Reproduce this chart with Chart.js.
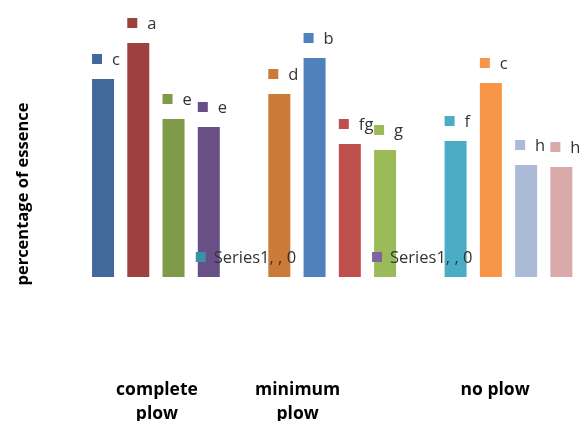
<!DOCTYPE html>
<html>
<head>
<meta charset="utf-8">
<script src="https://cdn.jsdelivr.net/npm/chart.js@4/dist/chart.umd.min.js"></script>
<style>
  html, body { margin: 0; padding: 0; background: #fff; }
  #wrap { width: 579px; height: 421px; }
</style>
</head>
<body>
<div id="wrap"><canvas id="essenceChart"></canvas></div>
<script>
// 14 slots: 4 bars per tillage group with an empty slot between groups
const slots = ['1', '2', '3', '4', '', '5', '6', '7', '8', '', '9', '10', '11', '12'];
const essence = [1.98, 2.34, 1.58, 1.50, null, 1.83, 2.19, 1.33, 1.27, null, 1.36, 1.94, 1.12, 1.10];
const letters = ['c', 'a', 'e', 'e', '', 'd', 'b', 'fg', 'g', '', 'f', 'c', 'h', 'h'];
const barColors = ['#41699A', '#9E403D', '#7F9A48', '#684F86', '#ffffff',
                   '#CB7B38', '#4F81BD', '#C0504D', '#9BBB59', '#ffffff',
                   '#4BACC6', '#F79646', '#AABAD7', '#D9AAA9'];

// stray zero-valued series whose labels show up inside the plot
const zeroSeries = [null, null, null, 0, null, null, null, null, 0, null, null, null, null, null];
const zeroText = ['', '', '', 'Series1, , 0', '', '', '', '', 'Series1, , 0', '', '', '', '', ''];
const zeroColors = ['#fff', '#fff', '#fff', '#3C90A8', '#fff', '#fff', '#fff', '#fff', '#8064A2', '#fff', '#fff', '#fff', '#fff', '#fff'];

// category labels and where they sit along the slot axis
const groupNames = [['complete', 'plow'], ['minimum', 'plow'], ['no plow']];
const groupLabelAt = [1.53, 5.52, 11.12];

const FONT = "'Open Sans', 'DejaVu Sans', sans-serif";

const barLabels = {
  id: 'barLabels',
  afterDatasetsDraw(chart) {
    const ctx = chart.ctx;
    ctx.save();
    ctx.font = '16.5px ' + FONT;
    ctx.textBaseline = 'middle';
    ctx.textAlign = 'left';
    chart.data.datasets.forEach((ds, di) => {
      const meta = chart.getDatasetMeta(di);
      meta.data.forEach((bar, i) => {
        if (ds.data[i] === null || !ds.labelText[i]) return;
        const p = bar.getProps(['x', 'y', 'width'], true);
        const left = p.x - p.width / 2;
        ctx.fillStyle = ds.markerColor[i];
        ctx.fillRect(left, p.y - 25, 10, 10);
        ctx.fillStyle = '#333333';
        ctx.fillText(ds.labelText[i], left + ds.textGap, p.y - 19);
      });
    });
    ctx.restore();
  }
};

new Chart(document.getElementById('essenceChart'), {
  type: 'bar',
  data: {
    labels: slots,
    datasets: [
      {
        label: 'essence',
        data: essence,
        backgroundColor: barColors,
        borderWidth: 0,
        barPercentage: 0.624,
        categoryPercentage: 1,
        grouped: false,
        labelText: letters,
        markerColor: barColors,
        textGap: 20
      },
      {
        label: 'Series1',
        data: zeroSeries,
        backgroundColor: zeroColors,
        borderWidth: 0,
        barPercentage: 0.74,
        categoryPercentage: 1,
        grouped: false,
        labelText: zeroText,
        markerColor: zeroColors,
        textGap: 18
      }
    ]
  },
  options: {
    responsive: true,
    maintainAspectRatio: false,
    animation: false,
    layout: { padding: { top: 17, right: 0, bottom: 0, left: 0 } },
    plugins: {
      legend: { display: false },
      tooltip: { enabled: false }
    },
    scales: {
      x: {
        display: false,
        offset: true
      },
      x2: {
        type: 'linear',
        position: 'bottom',
        min: -0.5,
        max: 13.5,
        offset: false,
        bounds: 'data',
        grid: { display: false, drawTicks: false, offset: false },
        border: { display: false },
        afterBuildTicks: axis => {
          axis.ticks = groupLabelAt.map(v => ({ value: v }));
        },
        afterFit: axis => { axis.height = 50; },
        ticks: {
          autoSkip: false,
          maxRotation: 0,
          padding: 7,
          color: '#000',
          font: { family: FONT, size: 17.5, weight: 'bold', lineHeight: 1.37 },
          callback: (value, index) => groupNames[index]
        }
      },
      y: {
        min: -0.94,
        max: 2.6,
        grid: { display: false },
        border: { display: false },
        ticks: { display: false },
        afterFit: axis => { axis.width = 85.4; },
        title: {
          display: true,
          text: 'percentage of essence',
          color: '#000',
          padding: { top: 13, bottom: 0 },
          font: { family: FONT, size: 16.5, weight: 'bold' }
        }
      }
    }
  },
  plugins: [barLabels]
});
</script>
</body>
</html>
